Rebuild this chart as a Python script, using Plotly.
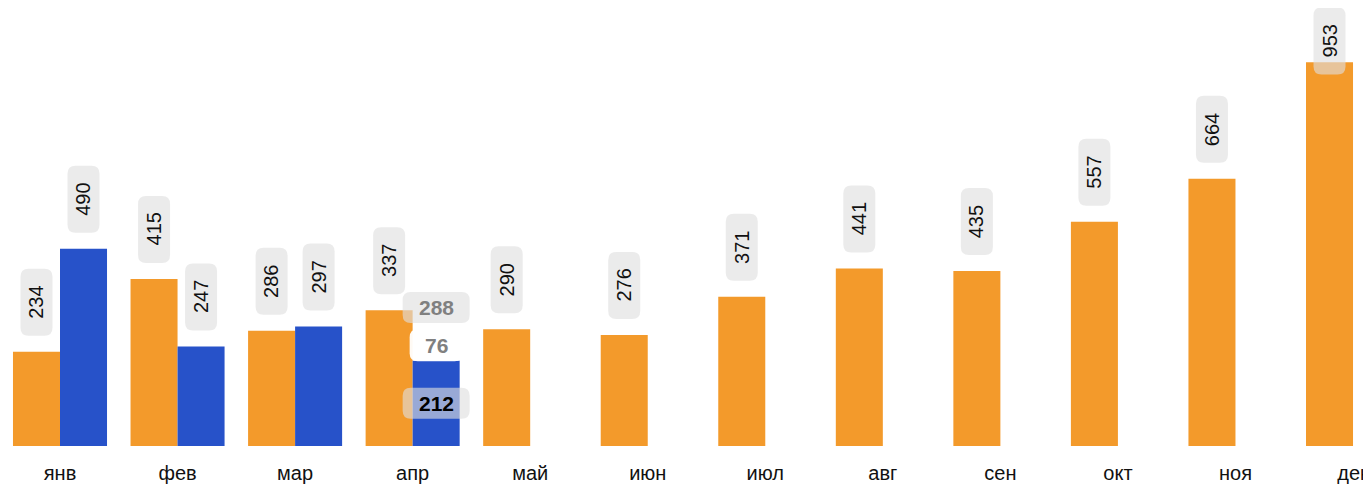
import plotly.graph_objects as go

# ---- data ----
months = ["янв", "фев", "мар", "апр", "май", "июн", "июл", "авг", "сен", "окт", "ноя", "дек"]
orange_vals = [234, 415, 286, 337, 290, 276, 371, 441, 435, 557, 664, 953]
blue_vals = [490, 247, 297, 212, None, None, None, None, None, None, None, None]
extra_vals = [None, None, None, 76, None, None, None, None, None, None, None, None]

ORANGE = "#f39a2b"
BLUE = "#2752c9"
FONT = "Liberation Sans, Arial"

# ---- layout geometry (page body has an 8px margin) ----
W, H = 1363, 476
M_T, M_B = 0, 33
PLOT_H = H - M_T - M_B
Y_MAX = 1088
X_RANGE = [-0.4424, 11.153]
px_per_unit = PLOT_H / Y_MAX

xs = list(range(len(months)))
x_orange = [i - 0.2 for i in xs]
x_blue = [i + 0.2 for i in xs]

fig = go.Figure()
fig.add_trace(go.Bar(x=xs, y=orange_vals, marker=dict(color=ORANGE, line=dict(width=0)),
                     offsetgroup="a", hoverinfo="skip"))
fig.add_trace(go.Bar(x=xs, y=blue_vals, marker=dict(color=BLUE, line=dict(width=0)),
                     offsetgroup="b", hoverinfo="skip"))
fig.add_trace(go.Bar(x=xs, y=extra_vals,
                     base=[b if e is not None else None for b, e in zip(blue_vals, extra_vals)],
                     marker=dict(color="rgba(255,255,255,0)", line=dict(width=0)),
                     offsetgroup="b", hoverinfo="skip"))


def rrect(w, h, cy, r=8):
    x0, x1 = -w / 2, w / 2
    y0, y1 = cy - h / 2, cy + h / 2
    return (f"M {x0 + r},{y0} L {x1 - r},{y0} Q {x1},{y0} {x1},{y0 + r} "
            f"L {x1},{y1 - r} Q {x1},{y1} {x1 - r},{y1} L {x0 + r},{y1} "
            f"Q {x0},{y1} {x0},{y1 - r} L {x0},{y0 + r} Q {x0},{y0} {x0 + r},{y0} Z")


shapes = []
annotations = []
GRAY_BOX = "rgba(222,222,222,0.62)"

BOX_W, BOX_H, GAP = 32, 67, 16
TOP_PAD = 0


def vlabel(x, v):
    top_px = v * px_per_unit
    room = PLOT_H - top_px
    cy = GAP + BOX_H / 2
    if GAP + BOX_H > room - TOP_PAD:
        cy = room - TOP_PAD - BOX_H / 2
    shapes.append(dict(type="path", xref="x", yref="y", xsizemode="pixel", ysizemode="pixel",
                       xanchor=x, yanchor=v, path=rrect(BOX_W, BOX_H, cy),
                       fillcolor=GRAY_BOX, line=dict(width=0), layer="above"))
    annotations.append(dict(x=x, y=v, yshift=cy, text=str(v), textangle=-90, showarrow=False,
                            font=dict(family=FONT, size=20, color="#111")))


def hlabel(x, yval, text, box_w, box_h, cy, fill, color):
    shapes.append(dict(type="path", xref="x", yref="y", xsizemode="pixel", ysizemode="pixel",
                       xanchor=x, yanchor=yval, path=rrect(box_w, box_h, cy),
                       fillcolor=fill, line=dict(width=0), layer="above"))
    annotations.append(dict(x=x, y=yval, yshift=cy, text=f"<b>{text}</b>", showarrow=False,
                            font=dict(family=FONT, size=21, color=color)))


for x, v in zip(x_orange, orange_vals):
    vlabel(x, v)

for x, b, e in zip(x_blue, blue_vals, extra_vals):
    if b is None:
        continue
    if e is None:
        vlabel(x, b)
    else:
        total = b + e
        hlabel(x, b / 2, b, 67, 31, 0, GRAY_BOX, "#000")
        hlabel(x, b + e / 2, e, 53, 32, 0, "rgba(255,255,255,0.95)", "#808080")
        hlabel(x, total, total, 67, 31, 22.5, GRAY_BOX, "#808080")

fig.update_layout(
    width=W, height=H,
    margin=dict(l=0, r=0, t=M_T, b=M_B, pad=0),
    barmode="group", bargap=0.2, bargroupgap=0,
    showlegend=False,
    plot_bgcolor="white", paper_bgcolor="white",
    shapes=shapes, annotations=annotations,
    xaxis=dict(tickvals=xs, ticktext=months, range=X_RANGE, showgrid=False, zeroline=False,
               showline=False, ticks="outside", ticklen=9, tickcolor="rgba(0,0,0,0)",
               tickfont=dict(family=FONT, size=20, color="#111")),
    yaxis=dict(range=[0, Y_MAX], visible=False, showgrid=False, zeroline=False),
)

fig.write_html("out.html", config={"displayModeBar": False})
